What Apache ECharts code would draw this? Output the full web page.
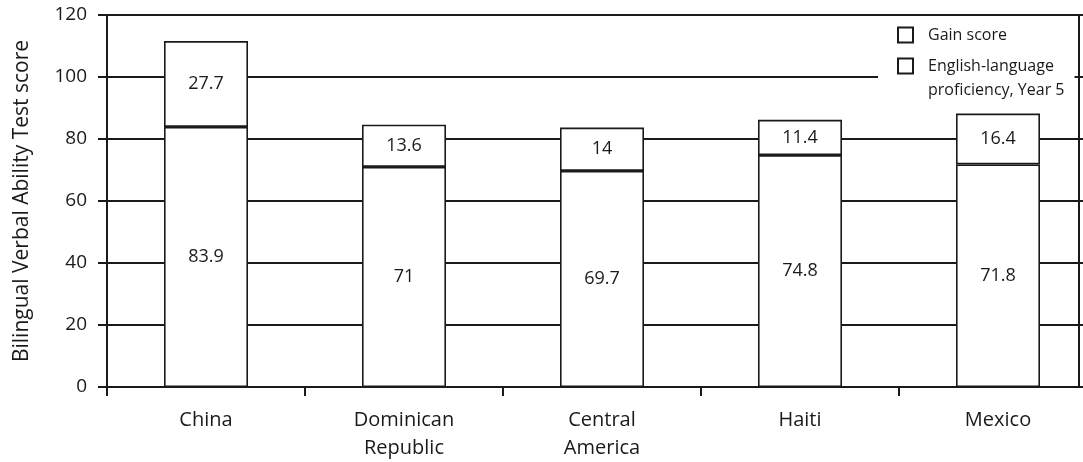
<!DOCTYPE html>
<html>
<head>
<meta charset="utf-8">
<script src="https://cdn.jsdelivr.net/npm/echarts@6/dist/echarts.min.js"></script>
<style>
html,body{margin:0;padding:0;background:#fff;}
#chart{width:1083px;height:462px;}
</style>
</head>
<body>
<div id="chart"></div>
<script>
var categories = ['China', 'Dominican\nRepublic', 'Central\nAmerica', 'Haiti', 'Mexico'];
var proficiency = [83.9, 71, 69.7, 74.8, 71.8];
var gain = [27.7, 13.6, 14, 11.4, 16.4];
var yTicks = [0, 20, 40, 60, 80, 100, 120];
var seriesNames = ['Gain score', 'English-language proficiency, Year 5'];
var legendLabels = ['Gain score', '\nEnglish-language\nproficiency, Year 5'];

var FONT = 'Open Sans';
var INK = '#1a1a1a';
var chart = echarts.init(document.getElementById('chart'));
var barStyle = { color: '#fff', borderColor: INK, borderWidth: 1.6 };
var labelStyle = { show: true, position: 'inside', color: INK, fontFamily: FONT, fontSize: 18 };

chart.setOption({
  animation: false,
  backgroundColor: '#fff',
  grid: { left: 107, top: 15, bottom: 75, width: 990, outerBoundsMode: 'none', containLabel: false },
  legend: {
    orient: 'vertical',
    left: 878,
    top: 17,
    padding: [6, 10, 4, 19],
    itemGap: -17,
    itemWidth: 15,
    itemHeight: 15,
    icon: 'rect',
    backgroundColor: '#fff',
    data: seriesNames,
    formatter: function (n) { return legendLabels[seriesNames.indexOf(n)]; },
    textStyle: { color: INK, fontFamily: FONT, fontSize: 16, lineHeight: 24, padding: [0, 0, 0, 10] },
    itemStyle: { color: '#fff', borderColor: INK, borderWidth: 2 }
  },
  xAxis: {
    type: 'category',
    data: categories,
    axisLine: { lineStyle: { color: INK, width: 2 } },
    axisTick: { show: true, length: 9, lineStyle: { color: INK, width: 2 } },
    axisLabel: { color: INK, fontFamily: FONT, fontSize: 20, margin: 19, lineHeight: 28 }
  },
  yAxis: [{
    type: 'value',
    min: yTicks[0],
    max: yTicks[yTicks.length - 1],
    interval: yTicks[1] - yTicks[0],
    name: 'Bilingual Verbal Ability Test score',
    nameLocation: 'middle',
    nameGap: 74,
    nameTextStyle: { color: INK, fontFamily: FONT, fontSize: 21 },
    axisLine: { show: true, lineStyle: { color: INK, width: 2 } },
    axisTick: { show: true, length: 9, lineStyle: { color: INK, width: 2 } },
    axisLabel: { color: INK, fontFamily: FONT, fontSize: 19, margin: 20 },
    splitLine: { show: true, lineStyle: { color: INK, width: 2 } }
  }, {
    type: 'value',
    position: 'right',
    offset: -18,
    min: yTicks[0],
    max: yTicks[yTicks.length - 1],
    interval: yTicks[1] - yTicks[0],
    axisLine: { show: true, lineStyle: { color: INK, width: 2 } },
    axisTick: { show: false },
    axisLabel: { show: false },
    splitLine: { show: false }
  }],
  series: [{
    name: seriesNames[1],
    type: 'bar',
    stack: 'total',
    barWidth: 84,
    data: proficiency,
    itemStyle: barStyle,
    label: labelStyle
  }, {
    name: seriesNames[0],
    type: 'bar',
    stack: 'total',
    barWidth: 84,
    data: gain,
    itemStyle: barStyle,
    label: labelStyle
  }]
});
</script>
</body>
</html>
